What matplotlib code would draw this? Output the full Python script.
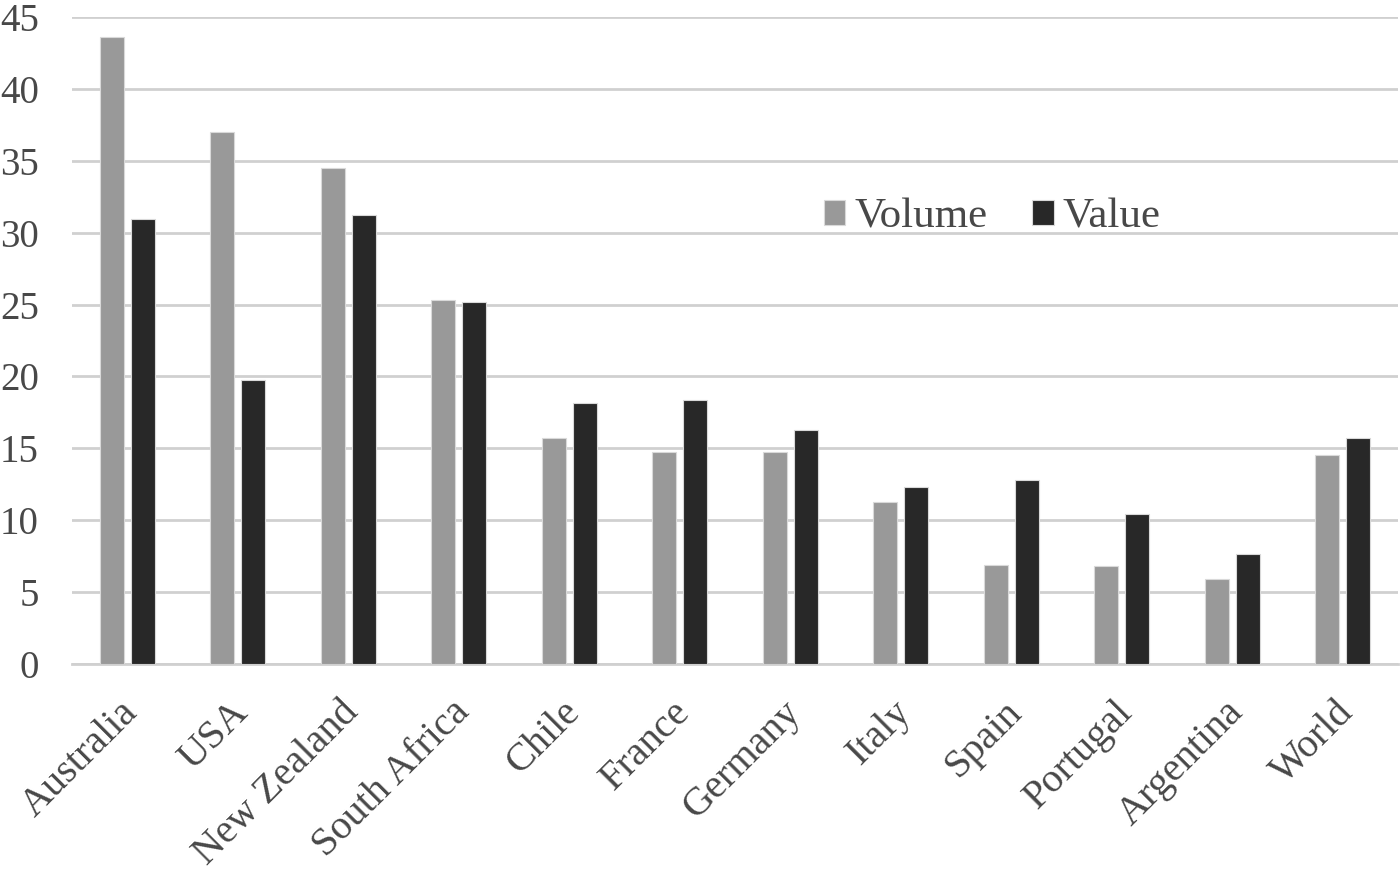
import matplotlib
matplotlib.use("Agg")
import matplotlib.pyplot as plt
import matplotlib.transforms as mtrans
import numpy as np

countries = ["Australia", "USA", "New Zealand", "South Africa", "Chile", "France",
             "Germany", "Italy", "Spain", "Portugal", "Argentina", "World"]
volume = [43.6, 37.0, 34.5, 25.3, 15.7, 14.75, 14.75, 11.25, 6.9, 6.8, 5.9, 14.55]
value = [30.95, 19.75, 31.25, 25.2, 18.15, 18.35, 16.3, 12.3, 12.8, 10.4, 7.65, 15.75]

plt.rcParams['font.family'] = ['Liberation Serif', 'DejaVu Serif']
text_color = '#484848'

fig = plt.figure(figsize=(14, 8.74), dpi=100)
ax = fig.add_axes([0.0514, 0.2403, 0.9472, 0.7402])

x = np.arange(len(countries))
w = 0.22
ax.bar(x - 0.14, volume, w, color='#999999', edgecolor='#d9d9d9', linewidth=0.8, label='Volume', zorder=3)
ax.bar(x + 0.14, value, w, color='#282828', edgecolor='#d9d9d9', linewidth=0.8, label='Value', zorder=3)

ax.set_xlim(-0.5, len(countries) - 0.5)
ax.set_ylim(0, 45)
ax.set_yticks(range(0, 46, 5))
ax.yaxis.grid(True, color='#d0d0d0', linewidth=2, zorder=0)
for s in ['left', 'right', 'top']:
    ax.spines[s].set_visible(False)
ax.spines['bottom'].set_color('#d0d0d0')
ax.spines['bottom'].set_linewidth(2)
ax.tick_params(axis='both', length=0, labelsize=28, labelcolor=text_color)
ax.tick_params(axis='x', labelsize=29)
ax.tick_params(axis='y', pad=24)
ax.set_xticks(x)
ax.set_xticklabels(countries, rotation=45, ha='right', va='top', rotation_mode='anchor')
offset = mtrans.ScaledTranslation(-0.08, -0.25, fig.dpi_scale_trans)
for lab in ax.get_xticklabels():
    lab.set_transform(lab.get_transform() + offset)

leg = ax.legend(loc='center', bbox_to_anchor=(0.694, 0.69), ncol=2, frameon=False,
                fontsize=31, handlelength=0.5, handleheight=0.5, handletextpad=0.2,
                columnspacing=1.05, labelcolor=text_color)

fig.savefig('out.png', dpi=100)
